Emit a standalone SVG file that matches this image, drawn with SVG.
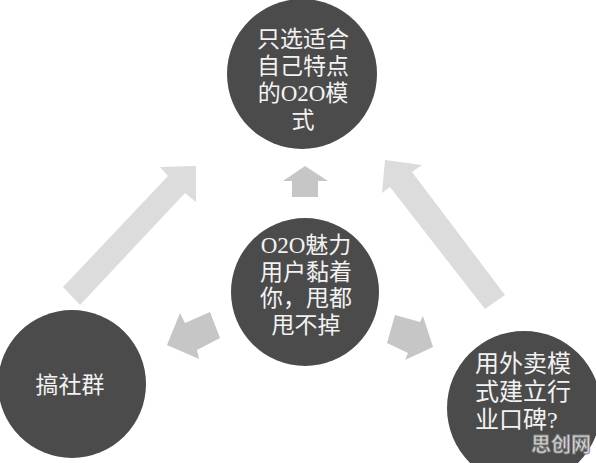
<svg xmlns="http://www.w3.org/2000/svg" width="596" height="463" viewBox="0 0 596 463">
<style>
.node circle{fill:#4b4b4b}
.lbl{fill:#f2f2f2;font-family:"Liberation Serif","Noto Sans CJK SC",serif;font-size:23px}
.big{fill:#dcdcdc}
.small{fill:#c6c6c6}
.wm{font-family:"Noto Sans CJK SC",sans-serif;font-weight:bold;font-size:20px;fill:#d9d9d9;stroke:#7a7a7a;stroke-width:0.8}
</style>
<rect width="596" height="463" fill="#ffffff"/>
<g id="connectors">
<polygon class="big" points="63,287 168,176 160,167 196,166 196,202 185,193 80,305"/>
<polygon class="big" points="385,160 422,165 412,172 505,295 485,309 390,187 382,193"/>
<polygon class="small" points="305,166 328,181 318,181 318,197 292,197 292,181 283,181"/>
<polygon class="small" points="167,345 180,313 185,323 210,312 220,338 197,350 199,359"/>
<polygon class="small" points="395,315 420,322 423,316 433,347 405,360 408,353 387,343"/>
</g>
<g id="top" class="node">
<circle cx="302" cy="74" r="75"/>
<text class="lbl" text-anchor="middle"><tspan x="303" y="47">只选适合</tspan><tspan x="303" y="74">自己特点</tspan><tspan x="303" y="101">的O2O模</tspan><tspan x="303" y="128">式</tspan></text>
</g>
<g id="center" class="node">
<circle cx="305" cy="292" r="74"/>
<text class="lbl" text-anchor="middle"><tspan x="306" y="253">O2O魅力</tspan><tspan x="306" y="280">用户黏着</tspan><tspan x="306" y="306">你，甩都</tspan><tspan x="306" y="333">甩不掉</tspan></text>
</g>
<g id="left" class="node">
<circle cx="72" cy="384" r="74"/>
<text class="lbl" x="70" y="393" text-anchor="middle">搞社群</text>
</g>
<g id="right" class="node">
<circle cx="524" cy="408" r="77"/>
<text class="lbl" style="font-size:24px"><tspan x="475" y="372">用外卖模</tspan><tspan x="475" y="400">式建立行</tspan><tspan x="475" y="428">业口碑?</tspan></text>
</g>
<text class="wm" x="531" y="452">思创网</text>
</svg>
